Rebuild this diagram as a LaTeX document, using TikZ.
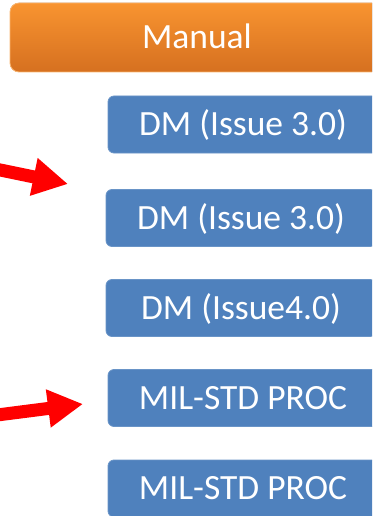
\documentclass[tikz,border=0pt]{standalone}
\usepackage{fontspec}
\setmainfont{Carlito}
\usepackage{tikz}
\usetikzlibrary{positioning,arrows.meta}
\definecolor{mnOrangeTop}{RGB}{248,148,48}
\definecolor{mnOrangeBot}{RGB}{214,112,32}
\definecolor{mnBlue}{RGB}{79,129,189}
\definecolor{mnRed}{RGB}{255,0,0}

\begin{document}
\begin{tikzpicture}[x=1pt, y=-1pt,
    docbox/.style={rectangle, rounded corners=6pt, fill=mnBlue, draw=mnBlue!85!white,
      line width=0.8pt, minimum width=270pt, minimum height=57pt, inner sep=0pt,
      text=white, font=\fontsize{35.5}{40}\selectfont, text height=22.9pt, text depth=0pt},
    headbox/.style={docbox, rounded corners=9pt, draw=mnOrangeTop!70!white,
      top color=mnOrangeTop, bottom color=mnOrangeBot, minimum width=374pt, minimum height=69pt},
    pointer/.style={mnRed, line width=13pt, -{Triangle[length=35pt, width=36pt]}}]
  \useasboundingbox (0,0) rectangle (372,516);
  \clip (0,0) rectangle (372,516);

  % Header
  \node[headbox] (manual) at (197,37.5) {Manual};

  % Documents
  \node[docbox] (dm1) at (243,124.5) {DM (Issue 3.0)};
  \node[docbox] (dm2) at (241,218) {DM (Issue 3.0)};
  \node[docbox] (dm3) at (241,308) {DM (Issue4.0)};
  \node[docbox] (mil1) at (243,398) {MIL-STD PROC};
  \node[docbox] (mil2) at (243,488.5) {MIL-STD PROC};

  % Arrows
  \coordinate (pA) at (-20,165.8);
  \coordinate (tA) at (68,184);
  \coordinate (pB) at (-20,417.2);
  \coordinate (tB) at (83,404);
  \draw[pointer] (pA) -- (tA);
  \draw[pointer] (pB) -- (tB);
\end{tikzpicture}
\end{document}
